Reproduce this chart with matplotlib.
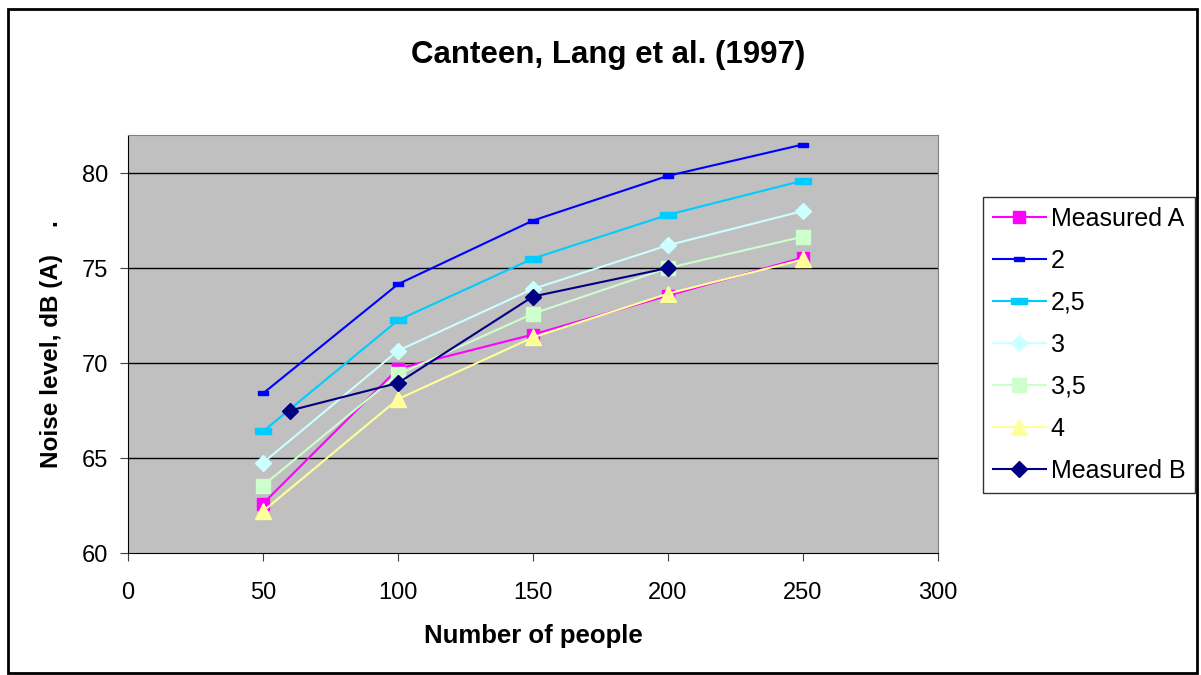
import matplotlib.pyplot as plt
from matplotlib.patches import Rectangle

plt.rcParams['font.family'] = ['Liberation Sans', 'DejaVu Sans']

# data
people = [50, 100, 150, 200, 250]
measured_a = [62.6, 69.7, 71.5, 73.55, 75.55]
n2 = [68.4, 74.15, 77.5, 79.85, 81.5]
n25 = [66.4, 72.25, 75.5, 77.8, 79.6]
n3 = [64.75, 70.65, 73.9, 76.2, 78.0]
n35 = [63.55, 69.4, 72.6, 75.0, 76.65]
n4 = [62.2, 68.1, 71.35, 73.65, 75.45]
people_b = [60, 100, 150, 200]
measured_b = [67.5, 68.95, 73.5, 75.0]

dash = [(-1, -0.35), (1, -0.35), (1, 0.35), (-1, 0.35), (-1, -0.35)]

fig = plt.figure(figsize=(12.01, 6.75), dpi=100)
fig.patches.append(Rectangle((0.007, 0.003), 0.99, 0.984, transform=fig.transFigure,
                             fill=False, edgecolor='black', linewidth=2))
ax = fig.add_axes([0.1066, 0.1807, 0.6744, 0.6193])
ax.set_facecolor('#c0c0c0')

ax.plot(people, measured_a, color='#ff00ff', marker='s', markersize=9, lw=1.5, label='Measured A')
ax.plot(people, n2, color='#0000ff', marker=dash, markersize=7, lw=1.5, label='2')
ax.plot(people, n25, color='#00ccff', marker=dash, markersize=11, lw=1.5, label='2,5')
ax.plot(people, n3, color='#ccffff', marker='D', markersize=8.5, lw=1.5, label='3')
ax.plot(people, n35, color='#ccffcc', marker='s', markersize=9.5, lw=1.5, label='3,5')
ax.plot(people, n4, color='#ffff99', marker='^', markersize=11, lw=1.5, label='4')
ax.plot(people_b, measured_b, color='#000080', marker='D', markersize=8.5, lw=1.5, label='Measured B')

ax.set_xlim(0, 300)
ax.set_ylim(60, 82)
ax.set_xticks(range(0, 301, 50))
ax.set_yticks(range(60, 81, 5))
for y in range(65, 81, 5):
    ax.axhline(y, color='black', lw=1, zorder=0.5)
ax.tick_params(labelsize=17, direction='out', length=6, color='#404040')
ax.tick_params(axis='x', pad=15)
ax.tick_params(axis='y', pad=8)
for s in ['top', 'right']:
    ax.spines[s].set_color('#808080')
for s in ['left', 'bottom']:
    ax.spines[s].set_color('black')

ax.set_xlabel('Number of people', fontsize=18.5, fontweight='bold', labelpad=14)
ax.set_ylabel('Noise level, dB (A)    .', fontsize=17.5, fontweight='bold', labelpad=14)
fig.text(0.506, 0.918, 'Canteen, Lang et al. (1997)', ha='center', va='center',
         fontsize=22.5, fontweight='bold')

leg = ax.legend(loc='upper left', bbox_to_anchor=(1.0556, 0.852), fontsize=18,
                frameon=True, fancybox=False, edgecolor='black', borderpad=0.4,
                labelspacing=0.72, handlelength=2.1, handletextpad=0.2, borderaxespad=0)
leg.get_frame().set_linewidth(1)

fig.savefig('out.png', dpi=100)
